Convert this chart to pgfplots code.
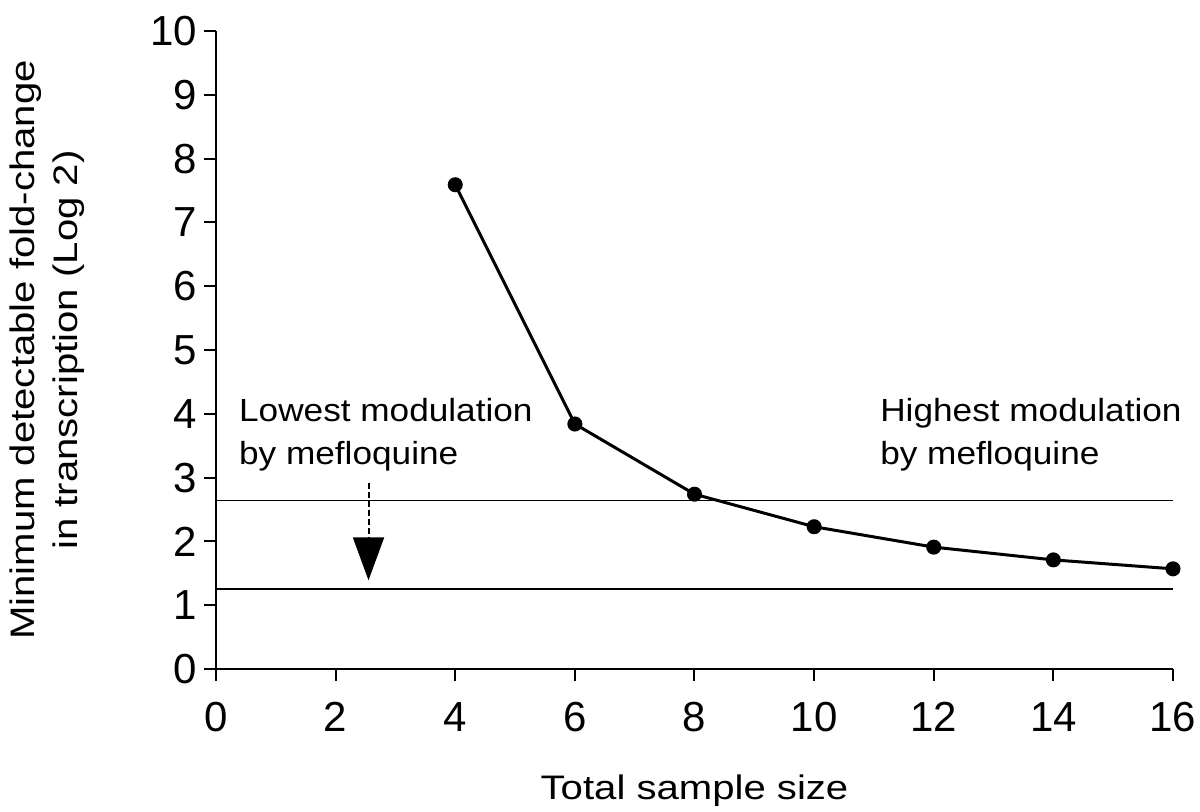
\documentclass[border=0pt]{standalone}
\usepackage{pgfplots}
\pgfplotsset{compat=1.18}
\usepackage{fontspec}
\setmainfont{Liberation Sans}
\newfontfamily\labfont[FakeStretch=1.18]{Liberation Sans}
\newfontfamily\annfont[FakeStretch=1.1]{Liberation Sans}
\usetikzlibrary{arrows.meta}
\begin{document}
\begin{tikzpicture}
\useasboundingbox (-108pt,-71.5pt) rectangle (492pt,334.5pt);
\begin{axis}[
 at={(0,0)}, anchor=south west, scale only axis,
 width=478.5pt, height=319pt,
 xmin=0, xmax=16, ymin=0, ymax=10,
 axis x line*=bottom, axis y line*=left,
 axis line style={line width=1pt, -},
 xtick={0,2,...,16}, ytick={0,1,...,10},
 tick style={line width=1pt, black},
 tick align=outside, major tick length=6pt,
 tick label style={font=\fontsize{21}{25}\selectfont},
 xticklabel style={yshift=-6.5pt, text height=15.3pt, text depth=0pt},
 /pgf/number format/assume math mode=true,
 xlabel={Total sample size},
 ylabel={Minimum detectable fold-change\\in transcription (Log 2)},
 label style={font=\labfont\fontsize{17}{21.5}\selectfont, align=center},
 xlabel style={at={(axis description cs:0.5,-0.2038)}, anchor=base},
 ylabel style={at={(axis description cs:-0.1766,0.5)}, anchor=center},
 clip=false,
]
\addplot[black, line width=0.75pt] coordinates {(0,2.64) (16,2.64)};
\addplot[black, line width=0.75pt] coordinates {(0,1.25) (16,1.25)};
\addplot[black, line width=1.5pt, mark=*, mark size=3pt] coordinates {
 (4,7.59) (6,3.84) (8,2.74) (10,2.23) (12,1.91) (14,1.71) (16,1.57)};
\draw[black, line width=1pt, dash pattern=on 3pt off 1.5pt, -{Triangle[length=21.5pt,width=15.5pt]}]
 (axis cs:2.55,2.92) -- (axis cs:2.55,1.39);
\node[anchor=north west, align=left, inner sep=0pt, font=\annfont\fontsize{16}{21.5}\selectfont]
 at (axis cs:0.38,4.25) {Lowest modulation\\by mefloquine};
\node[anchor=north west, align=left, inner sep=0pt, font=\annfont\fontsize{16}{21.5}\selectfont]
 at (axis cs:11.1,4.25) {Highest modulation\\by mefloquine};
\end{axis}
\end{tikzpicture}
\end{document}
